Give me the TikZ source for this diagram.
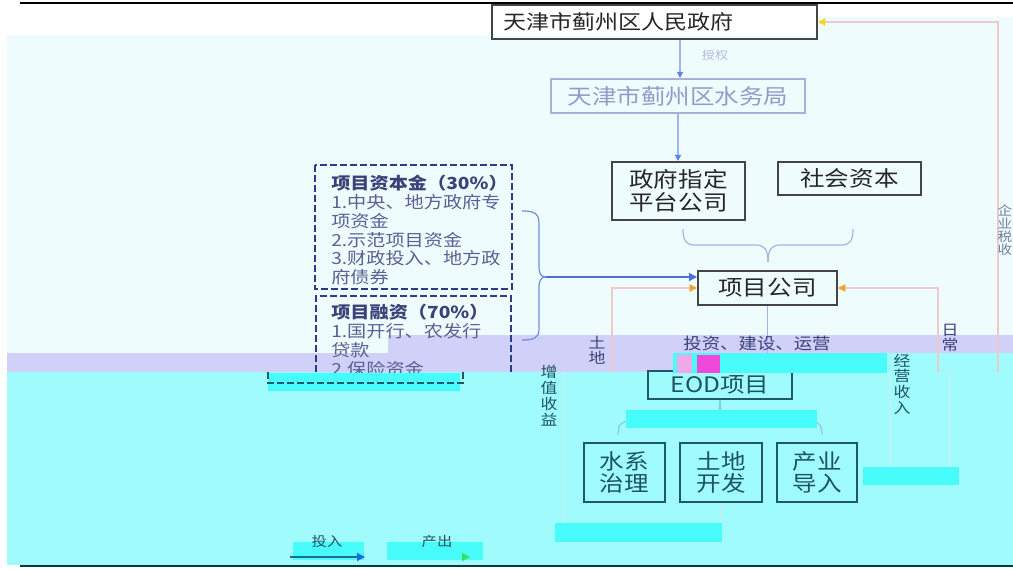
\documentclass[tikz,border=0pt]{standalone}
\usepackage{fontspec}
\newfontfamily\cjk[FakeStretch=1.15]{Noto Sans CJK SC}
\usetikzlibrary{arrows.meta}
\definecolor{bgpale}{HTML}{EFFCFE}
\definecolor{lav}{HTML}{D0D0F8}
\definecolor{cyanbg}{HTML}{A0FCFC}
\definecolor{cyanhi}{HTML}{48FCFC}
\definecolor{boxgray}{HTML}{454545}
\definecolor{txtdark}{HTML}{262626}
\definecolor{boxteal}{HTML}{1D5A66}
\definecolor{txtteal}{HTML}{1C5461}
\definecolor{navy}{HTML}{2C3A8A}
\definecolor{navytxt}{HTML}{3A4278}
\definecolor{listtxt}{HTML}{5A6094}
\definecolor{faint}{HTML}{A8B0D8}
\definecolor{fainttxt}{HTML}{939BC8}
\definecolor{blueln}{HTML}{A4B4E6}
\definecolor{bluetip}{HTML}{5C84E0}
\definecolor{bluearr}{HTML}{4A72D6}
\definecolor{orangeln}{HTML}{ECCACA}
\definecolor{orangetip}{HTML}{F2A42A}
\definecolor{cyanln}{HTML}{BCF2F4}
\definecolor{brcteal}{HTML}{88CCD8}
\definecolor{magentag}{HTML}{F048D8}
\definecolor{pinkg}{HTML}{F0A8E8}
\definecolor{yellowtip}{HTML}{F2D82A}
\definecolor{legblue}{HTML}{2466E0}
\definecolor{leggreen}{HTML}{34E058}
\definecolor{legline}{HTML}{1F6A8A}
\definecolor{rulebot}{HTML}{0F3940}
\begin{document}
\begin{tikzpicture}[x=0.75pt,y=-0.75pt,
  mainbox/.style={draw=boxgray, line width=1.5pt, text=txtdark, font=\cjk\fontsize{16}{17.25}\selectfont, inner sep=0pt, align=center},
  subbox/.style={draw=boxteal, line width=1.5pt, text=txtteal, font=\cjk\fontsize{16}{16.3}\selectfont, inner sep=0pt, align=center},
  dashbox/.style={draw=navy, line width=1.1pt, dash pattern=on 5pt off 2.5pt},
  listtext/.style={text=listtxt, font=\cjk\fontsize{12.5}{14.1}\selectfont, inner sep=0pt, align=left},
  vlabel/.style={font=\cjk\fontsize{11}{11.8}\selectfont, inner sep=0pt, align=center},
  brc/.style={draw=blueln, line width=0.9pt},
  brct/.style={draw=brcteal, line width=0.9pt},
  blueline/.style={draw=blueln, line width=0.9pt, -{Triangle[length=4.5pt,width=4.5pt,color=bluetip]}},
  bluearrow/.style={draw=bluearr, line width=1pt, -{Triangle[length=6pt,width=6pt,color=bluearr]}},
  orangearrow/.style={draw=orangeln, line width=1pt, -{Triangle[length=5.5pt,width=5.5pt,color=orangetip]}},
  taxarrow/.style={draw=orangeln, line width=1pt, -{Triangle[length=5.5pt,width=5.5pt,color=yellowtip]}},
  cline/.style={draw=cyanln, line width=1pt},
  glitch/.style={fill=cyanhi, draw=none}
]
\useasboundingbox (0,0) rectangle (1013,570);
% backgrounds
\fill[white] (0,0) rectangle (1013,570);
\fill[bgpale] (7,35) rectangle (1013,372);
\fill[bgpale] (817,17) rectangle (1013,35);
\fill[lav] (388,335) rectangle (1013,372);
\fill[lav] (7,353) rectangle (388,372);
\fill[cyanbg] (7,372) rectangle (1013,565);
\fill[cyanbg] (673,353) rectangle (1013,372);
% rules
\draw[black, line width=2.2pt] (20,3) -- (1013,3);
\draw[rulebot, line width=2.2pt] (20,566) -- (1013,566);

% top nodes
\node[mainbox, draw=boxgray, font=\cjk\fontsize{15}{16}\selectfont, text width=227.25pt, inner xsep=8.25pt, minimum height=25.5pt, align=left] (gov) at (654.5,22) {天津市蓟州区人民政府};
\node[mainbox, draw=faint, text=fainttxt, minimum width=190.5pt, minimum height=25.5pt] (water) at (678,96) {天津市蓟州区水务局};
\node[mainbox, minimum width=99.75pt, minimum height=43.5pt] (plat) at (678.5,191) {政府指定\\平台公司};
\node[mainbox, minimum width=107.25pt, minimum height=24.75pt] (social) at (849.5,178.5) {社会资本};
\node[mainbox, minimum width=104.25pt, minimum height=25.5pt] (pc) at (767.5,288) {项目公司};

% top connectors
\draw[blueline] (gov.south -| 680,0) -- (water.north -| 680,0);
\node[font=\cjk\fontsize{8.5}{9}\selectfont, text=fainttxt!70!white, inner sep=0pt] (auth) at (715,55) {授权};
\draw[blueline] (water.south -| 678,0) -- (plat.north -| 678,0);
% brace from plat and social to pc
\draw[brc] (683,229) .. controls (683,241) and (686,245) .. (695,245) -- (756,245) .. controls (764,245) and (768,249) .. (768,262);
\draw[brc] (768,262) .. controls (768,249) and (772,245) .. (780,245) -- (841,245) .. controls (850,245) and (853,241) .. (853,229);

% left dashed boxes
\draw[dashbox] (315,165) rectangle (512,289);
\node[listtext, anchor=north west] (cap) at (331,175) {\bfseries\color{navytxt}项目资本金（30\%）\\1.中央、地方政府专\\项资金\\2.示范项目资金\\3.财政投入、地方政\\府债券};
\draw[dashbox] (316,372) -- (316,296) -- (511,296) -- (511,372);
\node[listtext, anchor=north west] (fin) at (331,304) {\bfseries\color{navytxt}项目融资（70\%）\\1.国开行、农发行\\贷款\\2.保险资金};

% left brace and arrow
\draw[brc, draw=bluearr!80!white] (522,211) .. controls (534,211) and (539,213) .. (539,224) -- (539,266) .. controls (539,274) and (541,277) .. (546,277);
\draw[brc, draw=bluearr!80!white] (546,277) .. controls (541,277) and (539,280) .. (539,288) -- (539,329) .. controls (539,338) and (534,340) .. (522,340);
\coordinate (lbtip) at (546,277);
\draw[bluearrow] (lbtip) -- (lbtip -| pc.west);

% lower nodes (shifted band)
\node[subbox, minimum width=108pt, minimum height=21pt] (eod) at (720,385) {EOD项目};
\node[subbox, minimum width=60.75pt, minimum height=44.25pt] (water2) at (624.5,472.5) {水系\\治理};
\node[subbox, minimum width=61.5pt, minimum height=44.25pt] (land) at (721,472.5) {土地\\开发};
\node[subbox, minimum width=60pt, minimum height=44.25pt] (ind) at (817,472.5) {产业\\导入};

% pc down to eod
\draw[draw=blueln, line width=0.9pt] (pc.south) -- (pc.south |- eod.north);
\node[font=\cjk\fontsize{12}{13}\selectfont, text=navytxt, inner sep=0pt] (ibo) at (757,343) {投资、建设、运营};

% revenue lines
\coordinate (lb1) at (612,372);
\draw[orangearrow] (lb1) |- (pc.west);
\coordinate (rb1) at (938,372);
\draw[orangearrow] (rb1) |- (pc.east);
\coordinate (tb1) at (998,372);
\draw[taxarrow] (tb1) |- (gov.east);
\coordinate (lb2) at (564,372);
\draw[cline] (land.south) -- ++(0,30) -| (lb2);
\coordinate (rb2) at (890,372);
\draw[cline] (ind.east) -| (rb2);
\coordinate (tb2) at (950,372);
\draw[cline] (tb2) -- (950,476);

% brace eod to sub boxes
\draw[brct] (618,435) .. controls (618,425) and (621,421) .. (630,421) -- (708,421) .. controls (716,421) and (720,417) .. (720,400);
\draw[brct] (720,400) .. controls (720,417) and (724,421) .. (732,421) -- (810,421) .. controls (819,421) and (822,425) .. (822,435);

% labels
\node[vlabel, text=navytxt, font=\cjk\fontsize{11}{11.25}\selectfont] (lv1) at (597,350.5) {土\\地};
\node[vlabel, text=txtteal, font=\cjk\fontsize{11}{12}\selectfont] (lv2) at (549,396) {增\\值\\收\\益};
\node[vlabel, text=navytxt, font=\cjk\fontsize{11}{11.25}\selectfont] (rv1) at (950,337.5) {日\\常};
\node[vlabel, text=txtteal, font=\cjk\fontsize{11}{11.8}\selectfont] (rv2) at (902,384) {经\\营\\收\\入};
\node[vlabel, text=fainttxt!80!black, font=\cjk\fontsize{9.5}{9.75}\selectfont] (tax) at (1005,230) {企\\业\\税\\收};

% glitch blocks
\fill[glitch] (673,353) rectangle (887,373);
\fill[pinkg] (677,355) rectangle (692,373);
\fill[magentag] (697,355) rectangle (720,373);
\fill[glitch] (268,373) rectangle (460,391);
\fill[glitch] (626,410) rectangle (817,428);
\fill[glitch] (863,467) rectangle (959,485);
\fill[glitch] (555,523) rectangle (722,542);
\fill[glitch] (293,542) rectangle (364,560);
\fill[glitch] (387,542) rectangle (483,560);
\draw[dashbox, draw=boxteal] (268,372) -- (268,383) -- (463,383) -- (463,372);

% legend
\coordinate (in1) at (290,557);
\coordinate (in2) at (365,557);
\draw[draw=legline, line width=1pt, -{Triangle[length=6pt,width=6pt,color=legblue]}] (in1) -- (in2);
\node[font=\cjk\fontsize{10}{11}\selectfont, text=txtteal, inner sep=0pt] (legin) at (327,541) {投入};
\coordinate (out1) at (388,557);
\coordinate (out2) at (470,557);
\draw[draw=cyanhi, line width=1pt, -{Triangle[length=6pt,width=6pt,color=leggreen]}] (out1) -- (out2);
\node[font=\cjk\fontsize{10}{11}\selectfont, text=txtteal, inner sep=0pt] (legout) at (437,541) {产出};
\end{tikzpicture}
\end{document}
